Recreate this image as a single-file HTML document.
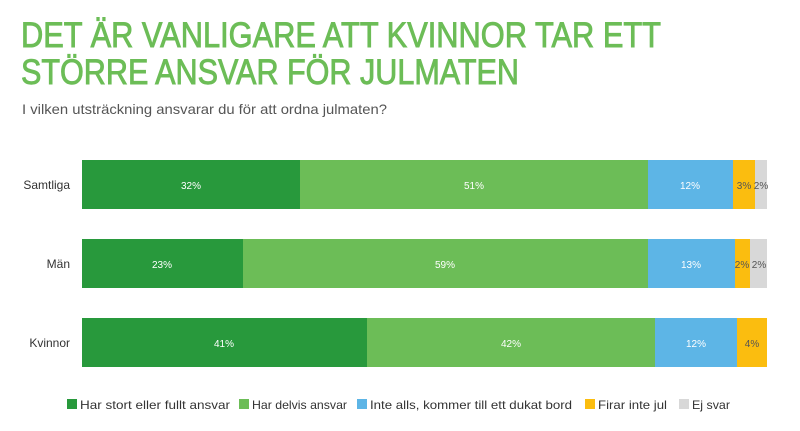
<!DOCTYPE html>
<html><head><meta charset="utf-8"><style>
html,body{margin:0;padding:0;background:#fff;}
svg{display:block;font-family:"Liberation Sans",sans-serif;}
</style></head><body>
<svg width="800" height="431" viewBox="0 0 800 431" xmlns="http://www.w3.org/2000/svg">
<text x="21" y="47" font-size="35" fill="#6cbd57" stroke="#6cbd57" stroke-width="0.9" textLength="640" lengthAdjust="spacingAndGlyphs">DET ÄR VANLIGARE ATT KVINNOR TAR ETT</text>
<text x="21" y="84" font-size="35" fill="#6cbd57" stroke="#6cbd57" stroke-width="0.9" textLength="498" lengthAdjust="spacingAndGlyphs">STÖRRE ANSVAR FÖR JULMATEN</text>
<text x="22" y="114" font-size="14" fill="#555" textLength="365" lengthAdjust="spacingAndGlyphs">I vilken utsträckning ansvarar du för att ordna julmaten?</text>
<g font-size="12" fill="#333" text-anchor="end">
<text x="70" y="189">Samtliga</text>
<text x="70" y="268">Män</text>
<text x="70" y="347">Kvinnor</text>
</g>
<g>
<rect x="82" y="160" width="218" height="49" fill="#28993c"/>
<rect x="300" y="160" width="348" height="49" fill="#6cbd57"/>
<rect x="648" y="160" width="85" height="49" fill="#5db5e6"/>
<rect x="733" y="160" width="22" height="49" fill="#fbbd0f"/>
<rect x="755" y="160" width="12" height="49" fill="#d8d8d8"/>
<rect x="82" y="239" width="161" height="49" fill="#28993c"/>
<rect x="243" y="239" width="405" height="49" fill="#6cbd57"/>
<rect x="648" y="239" width="87" height="49" fill="#5db5e6"/>
<rect x="735" y="239" width="15" height="49" fill="#fbbd0f"/>
<rect x="750" y="239" width="17" height="49" fill="#d8d8d8"/>
<rect x="82" y="318" width="285" height="49" fill="#28993c"/>
<rect x="367" y="318" width="288" height="49" fill="#6cbd57"/>
<rect x="655" y="318" width="82" height="49" fill="#5db5e6"/>
<rect x="737" y="318" width="30" height="49" fill="#fbbd0f"/>
</g>
<g font-size="10" text-anchor="middle" fill="#fff">
<text x="191" y="189">32%</text><text x="474" y="189">51%</text><text x="690" y="189">12%</text>
<text x="744" y="189" fill="#555">3%</text><text x="761" y="189" fill="#555">2%</text>
<text x="162" y="268">23%</text><text x="445" y="268">59%</text><text x="691" y="268">13%</text>
<text x="742" y="268" fill="#555">2%</text><text x="759" y="268" fill="#555">2%</text>
<text x="224" y="347">41%</text><text x="511" y="347">42%</text><text x="696" y="347">12%</text>
<text x="752" y="347" fill="#555">4%</text>
</g>
<g font-size="12" fill="#333">
<rect x="67" y="399" width="10" height="10" fill="#28993c"/><text x="80" y="409" textLength="150" lengthAdjust="spacingAndGlyphs">Har stort eller fullt ansvar</text>
<rect x="239" y="399" width="10" height="10" fill="#6cbd57"/><text x="252" y="409" textLength="95" lengthAdjust="spacingAndGlyphs">Har delvis ansvar</text>
<rect x="357" y="399" width="10" height="10" fill="#5db5e6"/><text x="370" y="409" textLength="202" lengthAdjust="spacingAndGlyphs">Inte alls, kommer till ett dukat bord</text>
<rect x="585" y="399" width="10" height="10" fill="#fbbd0f"/><text x="598" y="409" textLength="69" lengthAdjust="spacingAndGlyphs">Firar inte jul</text>
<rect x="679" y="399" width="10" height="10" fill="#d8d8d8"/><text x="692" y="409" textLength="38" lengthAdjust="spacingAndGlyphs">Ej svar</text>
</g>
</svg>
</body></html>
